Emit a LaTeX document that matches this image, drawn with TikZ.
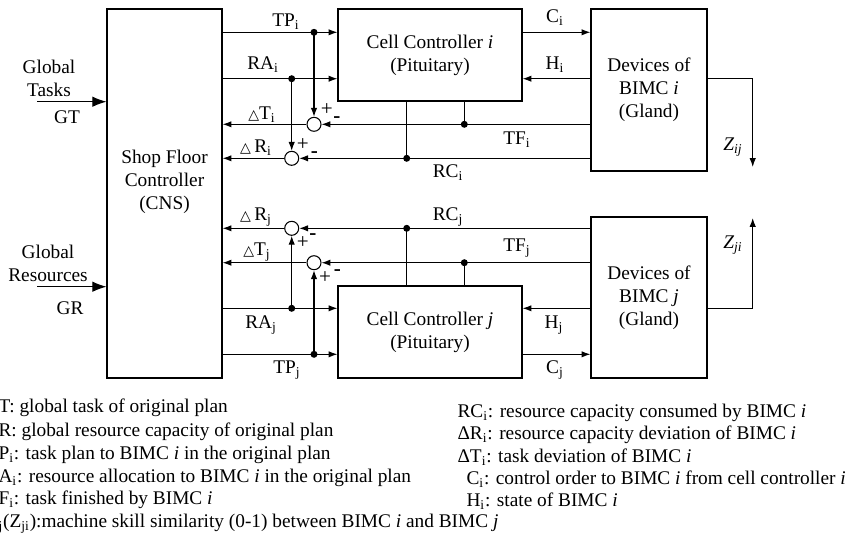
\documentclass[tikz,border=0pt]{standalone}
\usepackage{fontspec}
\setmainfont{Liberation Serif}
\newfontfamily\symfont{DejaVu Sans}
\usetikzlibrary{arrows.meta,positioning}

\newcommand{\sub}[1]{\textsubscript{#1}}
\newcommand{\dtri}{{\symfont\fontsize{8}{8}\selectfont △}}

\tikzset{
  block/.style={draw, line width=0.7pt, inner sep=0pt, align=center},
  sum/.style={draw, circle, inner sep=0pt, minimum size=0.28cm},
  dot/.style={circle, fill, inner sep=0pt, minimum size=0.14cm},
  lab/.style={inner sep=1pt},
  sgn/.style={inner sep=0pt, font=\fontsize{12}{12}\selectfont},
  legend/.style={anchor=west, inner sep=0pt},
  big/.style={-{Latex[length=8pt,width=6pt]}}
}

\begin{document}
\begin{tikzpicture}[x=0.02cm, y=-0.02cm, font=\fontsize{11}{13}\selectfont,
  >={Latex[length=5pt,width=3.6pt]}, line width=0.6pt]
\useasboundingbox (0,0) rectangle (851,549);

% blocks
\node[block, minimum width=2.3cm, minimum height=7.38cm] (sfc) at (164.5,193.5) {};
\node (sfctext) at (164.5,182) [align=center] {Shop Floor\\Controller\\(CNS)};
\node[block, minimum width=3.68cm, minimum height=1.84cm] (celli) at (430,55) {Cell Controller \textit{i}\\(Pituitary)};
\node[block, minimum width=2.32cm, minimum height=3.24cm] (devi) at (649,90) {Devices of\\BIMC \textit{i}\\(Gland)};
\node[block, minimum width=3.68cm, minimum height=1.84cm] (cellj) at (430,332) {Cell Controller \textit{j}\\(Pituitary)};
\node[block, minimum width=2.32cm, minimum height=3.22cm] (devj) at (649,297.5) {Devices of\\BIMC \textit{j}\\(Gland)};

% global inputs
\coordinate (gtin) at (37,101.7);
\coordinate (grin) at (37,286.7);
\draw[big] (gtin) -- (sfc.west |- gtin);
\draw[big] (grin) -- (sfc.west |- grin);
\node (gtext) at (49,78) [align=center] {Global\\Tasks};
\node (gt) at (67,117) {GT};
\node (grtext) at (48,263) [align=center] {Global\\Resources};
\node (gr) at (70,308) {GR};

% branch points and comparators, side i
\node[dot] (tpi) at (314,32.3) {};
\node[dot] (rai) at (291.7,78.7) {};
\node[sum] (sti) at (314,124.3) {};
\node[sum] (sri) at (291.7,158.3) {};
\node[dot] (tfi) at (464.3,124.3) {};
\node[dot] (rci) at (406.7,158.3) {};
\coordinate (zij) at (752.7,167);

\draw[->] (sfc.east |- tpi) -- (celli.west |- tpi);
\draw[->] (sfc.east |- rai) -- (celli.west |- rai);
\draw[->] (tpi.center) -- (sti);
\draw[->] (rai.center) -- (sri);
\draw[->] (celli.east |- tpi) -- (devi.west |- tpi);
\draw[->] (devi.west |- rai) -- (celli.east |- rai);
\draw[->] (devi.west |- sti) -- (sti);
\draw[->] (sti) -- (sfc.east |- sti);
\draw[->] (devi.west |- sri) -- (sri);
\draw[->] (sri) -- (sfc.east |- sri);
\draw (celli.south -| tfi) -- (tfi.center);
\draw (celli.south -| rci) -- (rci.center);
\draw[->] (devi.east |- rai) -| (zij);

% branch points and comparators, side j
\node[dot] (raj) at (291.7,308.3) {};
\node[dot] (tpj) at (314,354.3) {};
\node[sum] (srj) at (291.7,228.3) {};
\node[sum] (stj) at (314,262.7) {};
\node[dot] (rcj) at (406.7,228.3) {};
\node[dot] (tfj) at (464.3,262.7) {};
\coordinate (zji) at (752.7,218);

\draw[->] (sfc.east |- raj) -- (cellj.west |- raj);
\draw[->] (sfc.east |- tpj) -- (cellj.west |- tpj);
\draw[->] (raj.center) -- (srj);
\draw[->] (tpj.center) -- (stj);
\draw[->] (devj.west |- raj) -- (cellj.east |- raj);
\draw[->] (cellj.east |- tpj) -- (devj.west |- tpj);
\draw[->] (devj.west |- srj) -- (srj);
\draw[->] (srj) -- (sfc.east |- srj);
\draw[->] (devj.west |- stj) -- (stj);
\draw[->] (stj) -- (sfc.east |- stj);
\draw (cellj.north -| rcj) -- (rcj.center);
\draw (cellj.north -| tfj) -- (tfj.center);
\draw[->] (devj.east |- raj) -| (zji);

% signal labels
\node[lab] (ltpi) at (286,22) {TP\sub{i}};
\node[lab] (lrai) at (263,65) {RA\sub{i}};
\node[lab] (ldti) at (262,115) {\dtri T\sub{i}};
\node[lab] (ldri) at (256,148) {\dtri\,R\sub{i}};
\node[lab] (lci) at (555,18) {C\sub{i}};
\node[lab] (lhi) at (555,65) {H\sub{i}};
\node[lab] (ltfi) at (517,140) {TF\sub{i}};
\node[lab] (lrci) at (448,173) {RC\sub{i}};
\node[lab] (lzij) at (733,147) {\textit{Z\sub{ij}}};
\node[lab] (lrcj) at (448,216.7) {RC\sub{j}};
\node[lab] (ltfj) at (517,248) {TF\sub{j}};
\node[lab] (ldrj) at (256,216.7) {\dtri\,R\sub{j}};
\node[lab] (ldtj) at (257,251.7) {\dtri T\sub{j}};
\node[lab] (lraj) at (261,325) {RA\sub{j}};
\node[lab] (ltpj) at (287,370) {TP\sub{j}};
\node[lab] (lhj) at (554,325) {H\sub{j}};
\node[lab] (lcj) at (555,370) {C\sub{j}};
\node[lab] (lzji) at (733,245) {\textit{Z\sub{ji}}};

% signs at the comparators
\node[sgn] (pti) at (326.7,110) {+};
\node[sgn] (mti) at (337,120) {\textbf{-}};
\node[sgn] (pri) at (302.7,145) {+};
\node[sgn] (mri) at (314.3,155) {\textbf{-}};
\node[sgn] (prj) at (302.7,242.7) {+};
\node[sgn] (mrj) at (313,237) {\textbf{-}};
\node[sgn] (ptj) at (325,278) {+};
\node[sgn] (mtj) at (337.3,273) {\textbf{-}};

% legend
\node[legend] (lg1) at (-2,408) {T: global task of original plan};
\node[legend] (lg2) at (-2,432) {R: global resource capacity of original plan};
\node[legend] (lg3) at (-2,455) {P\sub{i}: task plan to BIMC \textit{i} in the original plan};
\node[legend] (lg4) at (-2,478) {A\sub{i}: resource allocation to BIMC \textit{i} in the original plan};
\node[legend] (lg5) at (-2,500) {F\sub{i}: task finished by BIMC \textit{i}};
\node[legend] (lg6) at (-2,524) {\sub{j}(Z\sub{ji}):machine skill similarity (0-1) between BIMC \textit{i} and BIMC \textit{j}};
\node[legend] (lr1) at (457,413) {RC\sub{i}: resource capacity consumed by BIMC \textit{i}};
\node[legend] (lr2) at (457,435) {ΔR\sub{i}: resource capacity deviation of BIMC \textit{i}};
\node[legend] (lr3) at (457,457) {ΔT\sub{i}: task deviation of BIMC \textit{i}};
\node[legend] (lr4) at (466,479) {C\sub{i}: control order to BIMC \textit{i} from cell controller \textit{i}};
\node[legend] (lr5) at (466,501) {H\sub{i}: state of BIMC \textit{i}};
\end{tikzpicture}
\end{document}
